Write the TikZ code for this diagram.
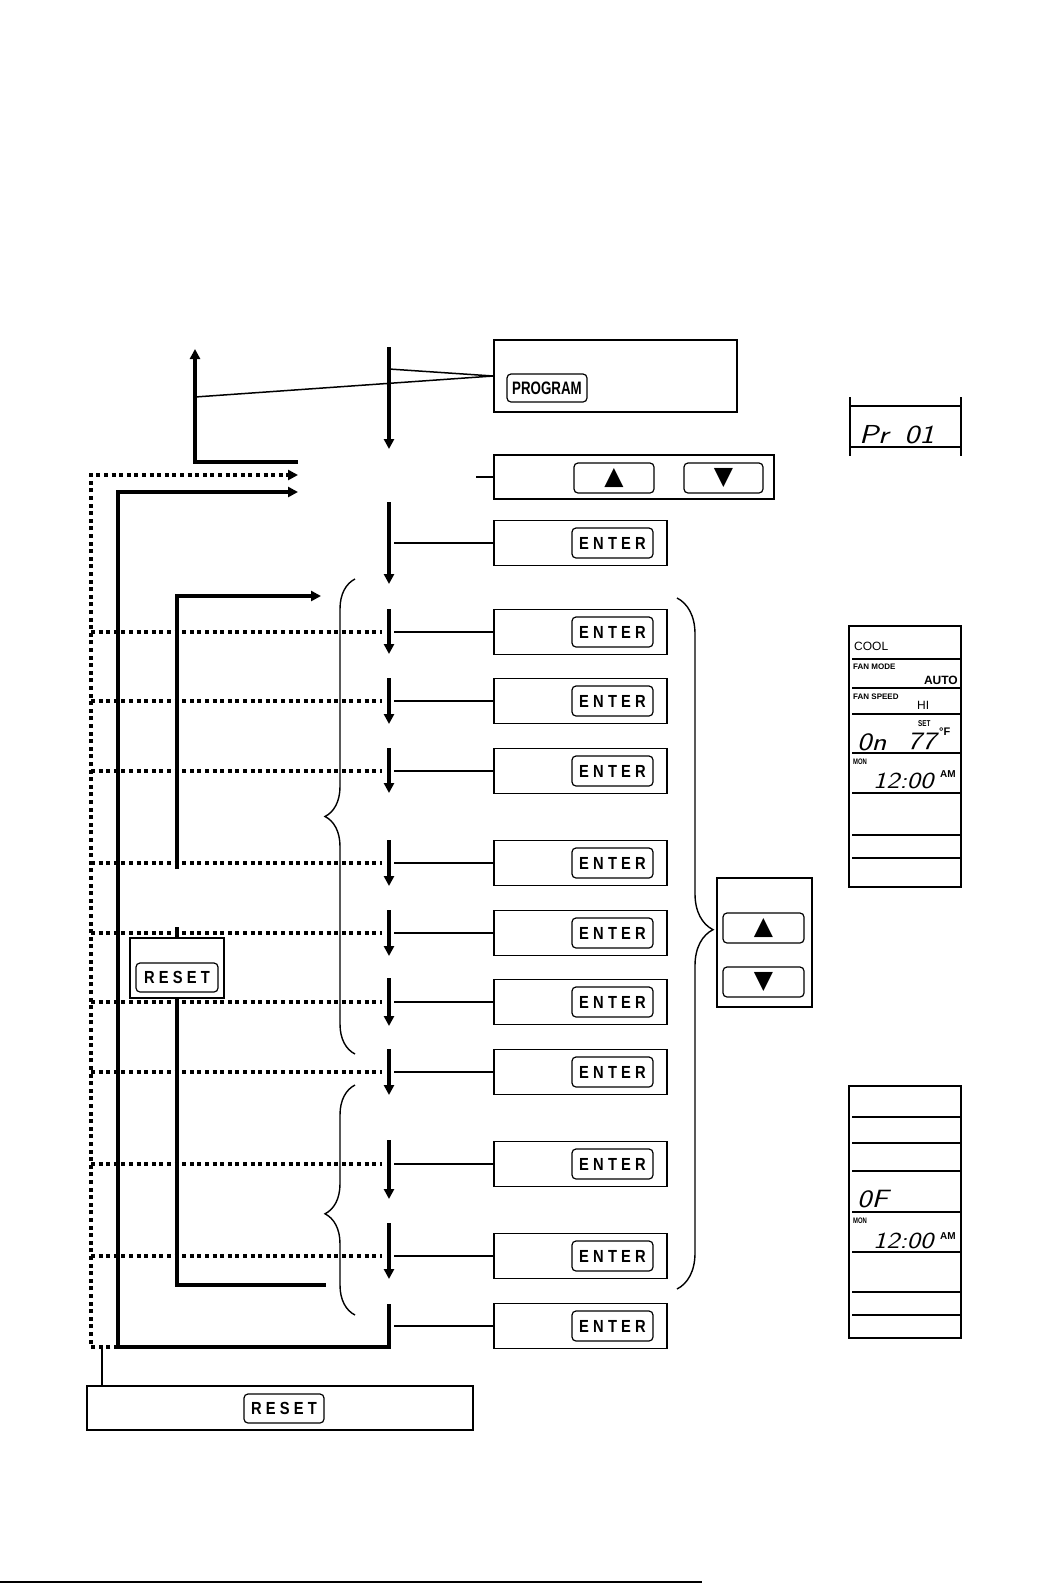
\documentclass[tikz,border=0pt]{standalone}
\usepackage{graphicx}
\usepackage{fontspec}
\newfontfamily\lab{Liberation Sans}
\newfontfamily\keyfont[LetterSpace=24, FakeStretch=0.84]{Liberation Sans}
\newfontfamily\narrowfont[FakeStretch=0.74]{Liberation Sans}
\newfontfamily\symfont{DejaVu Sans}
\usetikzlibrary{arrows.meta, positioning, decorations.pathreplacing, calc}
\newcommand\lcd[1]{\scalebox{1.22}[1]{#1}}

\begin{document}
\begin{tikzpicture}[x=1pt, y=-1pt, >={Triangle[length=10pt, width=10pt]},
  panel/.style={draw, line width=1.6pt, inner sep=0pt},
  key/.style={draw, rounded corners=4pt, line width=1.2pt, minimum width=81pt,
              minimum height=30pt, inner sep=0pt,
              font=\keyfont\bfseries\fontsize{17.5}{17.5}\selectfont},
  arrowkey/.style={key, font=\symfont\fontsize{25}{25}\selectfont},
  flow/.style={line width=3.4pt},
  dots/.style={line width=3.4pt, dash pattern=on 4pt off 3.6pt},
  tie/.style={line width=1.5pt},
  curly/.style={line width=1.4pt, decorate},
  seg/.style={font=\sffamily\slshape\fontsize{25}{25}\selectfont, inner sep=0pt},
  tag/.style={font=\lab\bfseries\fontsize{8}{8}\selectfont, inner sep=0pt},
  word/.style={font=\lab\fontsize{12}{12}\selectfont, inner sep=0pt},
  rule/.style={line width=2pt},
  hair/.style={line width=1.1pt}]

\useasboundingbox (0,0) rectangle (1053,1585);

% top: PROGRAM and the two arrow keys
\node[panel, minimum width=243pt, minimum height=72pt] (prog) at (615.5,376) {};
\node[key, minimum width=80pt, minimum height=28pt,
      font=\narrowfont\bfseries\fontsize{18}{18}\selectfont] (progkey) at (547,388) {PROGRAM};
\node[panel, minimum width=280pt, minimum height=44pt] (updn) at (634,477) {};
\node[arrowkey, minimum width=80pt] (upkey) at (614,478) {▲};
\node[arrowkey, minimum width=79pt] (downkey) at (723.5,478) {▼};

\draw[tie] (prog.west) -- (389,369);
\draw[tie] (prog.west) -- (195,397);
\draw[tie] (updn.west) -- ++(-17,0);

\draw[flow, ->] (389,347) -- (389,449);
\draw[flow, ->] (298,462) -- (195,462) -- (195,349);

% steps
\foreach \n/\y in {1/543, 2/632, 3/701, 4/771, 5/863, 6/933, 7/1002, 8/1072,
                   9/1164, 10/1256, 11/1326} {
  \node[panel, minimum width=173pt, minimum height=45pt] (row\n) at (580.5,\y) {};
  \node[key] (enter\n) at (612.5,\y) {ENTER};
  \draw[tie] (row\n.west) -- ++(-99,0);
}
\foreach \ya/\yb in {502/584, 609/654, 678/724, 748/793, 840/886, 910/956,
                     978/1026, 1049/1095, 1140/1199, 1223/1279}
  \draw[flow, ->] (389,\ya) -- (389,\yb);
\foreach \y in {632, 701, 771, 863, 933, 1002, 1072, 1164, 1256}
  \draw[dots] (91,\y) -- (382,\y);

% return paths
\draw[dots, ->] (118,1347) -- (91,1347) -- (91,475) -- (298,475);
\draw[flow, ->] (389,1304) -- (389,1347) -- (118,1347) -- (118,492) -- (298,492);

\node[panel, minimum width=94pt, minimum height=60pt] (resetbox) at (177,968) {};
\node[key, minimum width=82pt, minimum height=29pt] (resetkey) at (177,977.5) {RESET};
\draw[flow, ->] (177,869) -- (177,596) -- (321,596);
\draw[flow] (resetbox.north) -- ++(0,-10);
\draw[flow] (resetbox.south) -- (177,1285) -- (326,1285);

\node[panel, minimum width=386pt, minimum height=44pt] (resetall) at (280,1408) {};
\node[key, minimum width=80pt, minimum height=29pt] (resetallkey) at (284,1408.5) {RESET};
\coordinate (resetlink) at (102,1347);
\draw[tie] (resetlink) -- (resetlink |- resetall.north);

% braces
\draw[curly, decoration={brace, amplitude=30pt}] (355,1054) -- (355,579);
\draw[curly, decoration={brace, amplitude=30pt, aspect=0.44}] (355,1315) -- (355,1085);
\draw[curly, decoration={brace, amplitude=36pt, aspect=0.48}] (677,598) -- (677,1289);

\node[panel, minimum width=95pt, minimum height=129pt] (scroll) at (764.5,942.5) {};
\node[arrowkey] (scrollup) at (763.5,928) {▲};
\node[arrowkey] (scrolldown) at (763.5,982) {▼};

% displays
\draw[hair] (850,397) -- (850,456) (961,397) -- (961,456);
\draw[rule] (850,406) -- (961,406) (850,447) -- (961,447);
\node[seg, font=\sffamily\slshape\fontsize{26}{26}\selectfont, anchor=base west] (prdisp) at (859,443) {\lcd{Pr}\hspace{16pt}\lcd{01}};

\draw[line width=1.4pt] (849,626) rectangle (961,887);
\foreach \y in {659, 688, 714, 753, 858}
  \draw[rule] (852,\y) -- (960,\y);
\foreach \y in {793, 835}
  \draw[hair] (852,\y) -- (960,\y);
\node[word, anchor=west] (cool) at (854,646) {COOL};
\node[tag, anchor=west] (fanmode) at (853,667) {FAN MODE};
\node[word, font=\lab\bfseries\fontsize{12}{12}\selectfont, anchor=east] (auto) at (958,680) {AUTO};
\node[tag, anchor=west] (fanspeed) at (853,697) {FAN SPEED};
\node[word, anchor=west] (hi) at (917,705) {HI};
\node[tag, font=\narrowfont\bfseries\fontsize{8.5}{8.5}\selectfont, anchor=west] (set) at (918,724) {SET};
\node[seg, anchor=base west] (ondisp) at (857,750) {\lcd{0n}};
\node[seg, anchor=base west] (tempdisp) at (907,749) {\lcd{77}};
\node[word, font=\lab\bfseries\fontsize{11}{11}\selectfont, anchor=west] (degf) at (939,732) {°F};
\node[tag, font=\narrowfont\bfseries\fontsize{8}{8}\selectfont, anchor=west] (mon) at (853,762) {MON};
\node[seg, font=\sffamily\slshape\fontsize{23}{23}\selectfont, anchor=base west] (clock) at (873,788) {\lcd{12:00}};
\node[tag, font=\lab\bfseries\fontsize{10}{10}\selectfont, anchor=west] (am) at (940,774) {AM};

\draw[line width=1.4pt] (849,1086) rectangle (961,1338);
\draw[hair] (852,1117) -- (960,1117);
\foreach \y in {1143, 1171, 1212, 1252, 1292, 1315}
  \draw[rule] (852,\y) -- (960,\y);
\node[seg, anchor=base west] (offdisp) at (857,1207) {\lcd{0F}};
\node[tag, font=\narrowfont\bfseries\fontsize{8}{8}\selectfont, anchor=west] (monoff) at (853,1221) {MON};
\node[seg, font=\sffamily\slshape\fontsize{23}{23}\selectfont, anchor=base west] (clockoff) at (873,1248) {\lcd{12:00}};
\node[tag, font=\lab\bfseries\fontsize{10}{10}\selectfont, anchor=west] (amoff) at (940,1236) {AM};

\draw[line width=2pt] (0,1582) -- (702,1582);
\end{tikzpicture}
\end{document}
